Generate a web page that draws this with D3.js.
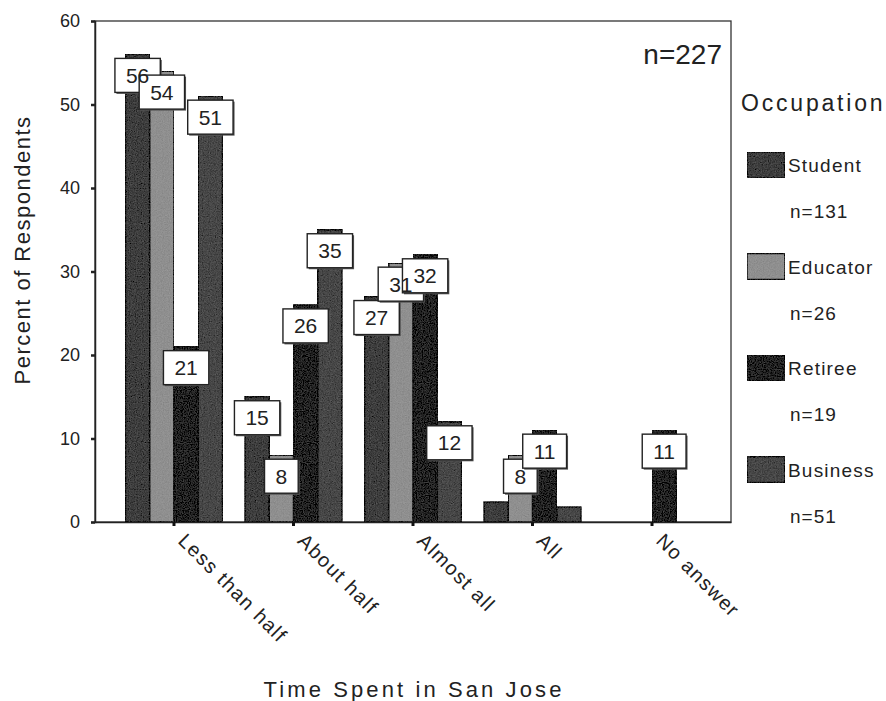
<!DOCTYPE html>
<html>
<head>
<meta charset="utf-8">
<script src="https://cdn.jsdelivr.net/npm/d3@7"></script>
<style>
  html, body { margin: 0; padding: 0; background: #fff; }
  svg { display: block; font-family: "Liberation Sans", Arial, sans-serif; }
</style>
</head>
<body>
<svg id="chart" width="886" height="701"></svg>
<script>
// Time spent in San Jose, by occupation (percent of respondents)
const categories = ["Less than half", "About half", "Almost all", "All", "No answer"];
const series = ["Student", "Educator", "Retiree", "Business"];
const seriesCounts = ["n=131", "n=26", "n=19", "n=51"];
const student = [56, 15, 27, 2.4, 0];
const educator = [54, 8, 31, 8, 0];
const retiree = [21, 26, 32, 11, 11];
const business = [51, 35, 12, 1.8, 0];
const yTicks = [0, 10, 20, 30, 40, 50, 60];
const totalLabel = "n=227";

const values = [student, educator, retiree, business];
const colors = ["#3e3e3e", "#8f8f8f", "#232323", "#474747"];

const svg = d3.select("#chart");
const plot = { left: 95, right: 731, top: 21, bottom: 522 };

// noisy fill texture for bars and swatches
const defs = svg.append("defs");
const grain = defs.append("filter").attr("id", "grain")
  .attr("x", 0).attr("y", 0).attr("width", 1).attr("height", 1);
grain.append("feTurbulence").attr("type", "fractalNoise")
  .attr("baseFrequency", 0.85).attr("numOctaves", 2).attr("seed", 3).attr("result", "noise");
grain.append("feColorMatrix").attr("in", "noise").attr("type", "matrix")
  .attr("values", "0.33 0.33 0.33 0 0  0.33 0.33 0.33 0 0  0.33 0.33 0.33 0 0  0 0 0 0 1")
  .attr("result", "gray");
grain.append("feComposite").attr("in", "SourceGraphic").attr("in2", "gray")
  .attr("operator", "arithmetic").attr("k1", 0).attr("k2", 1).attr("k3", 0.22).attr("k4", -0.11)
  .attr("result", "mix");
grain.append("feComposite").attr("in", "mix").attr("in2", "SourceGraphic").attr("operator", "in");

const x0 = d3.scaleBand().domain(categories)
  .range([plot.left, plot.right]).paddingInner(0.188).paddingOuter(0.255);
const x1 = d3.scaleBand().domain(series).range([0, x0.bandwidth()]);
const y = d3.scaleLinear().domain([0, 60]).range([plot.bottom, plot.top]);

// plot frame
svg.append("rect")
  .attr("x", plot.left).attr("y", plot.top)
  .attr("width", plot.right - plot.left).attr("height", plot.bottom - plot.top)
  .attr("fill", "none").attr("stroke", "#333").attr("stroke-width", 1.3);

// bars
const barData = [];
series.forEach((s, si) => {
  categories.forEach((c, ci) => {
    barData.push({ s, si, c, v: values[si][ci] });
  });
});

svg.append("g").selectAll("rect")
  .data(barData.filter(d => d.v > 0))
  .join("rect")
  .attr("x", d => x0(d.c) + x1(d.s))
  .attr("y", d => y(d.v))
  .attr("width", x1.bandwidth())
  .attr("height", d => y(0) - y(d.v))
  .attr("fill", d => colors[d.si])
  .attr("stroke", "#111")
  .attr("stroke-width", 1.5)
  .attr("filter", "url(#grain)");

// y axis
const yAxis = d3.axisLeft(y).tickValues(yTicks).tickSize(4).tickPadding(11);
const gy = svg.append("g").attr("transform", `translate(${plot.left},0)`).call(yAxis);
gy.select(".domain").attr("stroke", "#222").attr("stroke-width", 1.5);
gy.selectAll(".tick line").attr("stroke", "#222").attr("stroke-width", 2.5);
gy.selectAll(".tick text").attr("font-size", 18).attr("fill", "#222")
  .attr("font-family", "'Liberation Sans', Arial, sans-serif");

// x axis
const xAxis = d3.axisBottom(x0).tickSize(4).tickSizeOuter(0);
const gx = svg.append("g").attr("transform", `translate(0,${plot.bottom})`).call(xAxis);
gx.select(".domain").attr("stroke", "#222").attr("stroke-width", 1.5);
gx.selectAll(".tick line").attr("stroke", "#111").attr("stroke-width", 3);
gx.selectAll(".tick text")
  .attr("font-size", 20).attr("fill", "#222").attr("letter-spacing", 1.4)
  .attr("font-family", "'Liberation Sans', Arial, sans-serif")
  .attr("text-anchor", "start").attr("dy", null).attr("y", null)
  .attr("transform", "translate(3,20) rotate(45)");

// value labels: all boxes first, text drawn on top
const labeled = barData.filter(d => d.v >= 5);
const fmt = d3.format("d");
const labelFont = 21;
const boxH = 34;
const measure = svg.append("text").attr("font-size", labelFont).attr("visibility", "hidden");
labeled.forEach(d => {
  d.text = fmt(Math.round(d.v));
  measure.text(d.text);
  d.w = measure.node().getComputedTextLength() + 22;
  d.cx = x0(d.c) + x1(d.s) + x1.bandwidth() / 2;
  d.top = y(d.v) + 4;
});
measure.remove();

const boxes = svg.append("g");
labeled.forEach(d => {
  boxes.append("rect")
    .attr("x", d.cx - d.w / 2 + 1.5).attr("y", d.top + 1.5)
    .attr("width", d.w).attr("height", boxH)
    .attr("fill", "#555");
  boxes.append("rect")
    .attr("x", d.cx - d.w / 2).attr("y", d.top)
    .attr("width", d.w).attr("height", boxH)
    .attr("fill", "#fff").attr("stroke", "#222").attr("stroke-width", 1.4);
});
svg.append("g").selectAll("text")
  .data(labeled)
  .join("text")
  .attr("x", d => d.cx)
  .attr("y", d => d.top + boxH / 2 + 7.5)
  .attr("text-anchor", "middle")
  .attr("font-size", labelFont)
  .attr("fill", "#222")
  .text(d => d.text);

// total respondents
svg.append("text")
  .attr("x", 722).attr("y", 64)
  .attr("text-anchor", "end")
  .attr("font-size", 28).attr("fill", "#222")
  .text(totalLabel);

// axis titles
svg.append("text")
  .attr("transform", "translate(30,250) rotate(-90)")
  .attr("text-anchor", "middle")
  .attr("font-size", 22).attr("letter-spacing", 1.5).attr("fill", "#222")
  .text("Percent of Respondents");

svg.append("text")
  .attr("x", 414).attr("y", 697)
  .attr("text-anchor", "middle")
  .attr("font-size", 22).attr("letter-spacing", 3.1).attr("fill", "#222")
  .text("Time Spent in San Jose");

// legend
const legend = svg.append("g");
legend.append("text")
  .attr("x", 741).attr("y", 111)
  .attr("font-size", 23).attr("letter-spacing", 2.8).attr("fill", "#222")
  .text("Occupation");

const legendStep = 101.5;
series.forEach((s, i) => {
  const top = 152 + i * legendStep;
  legend.append("rect")
    .attr("x", 747).attr("y", top)
    .attr("width", 38).attr("height", 26)
    .attr("fill", colors[i]).attr("stroke", "#111").attr("stroke-width", 1.5)
    .attr("filter", "url(#grain)");
  legend.append("text")
    .attr("x", 788).attr("y", top + 20)
    .attr("font-size", 19).attr("letter-spacing", 1.2).attr("fill", "#222")
    .text(s);
  legend.append("text")
    .attr("x", 790).attr("y", top + 66)
    .attr("font-size", 19).attr("letter-spacing", 1).attr("fill", "#222")
    .text(seriesCounts[i]);
});
</script>
</body>
</html>
